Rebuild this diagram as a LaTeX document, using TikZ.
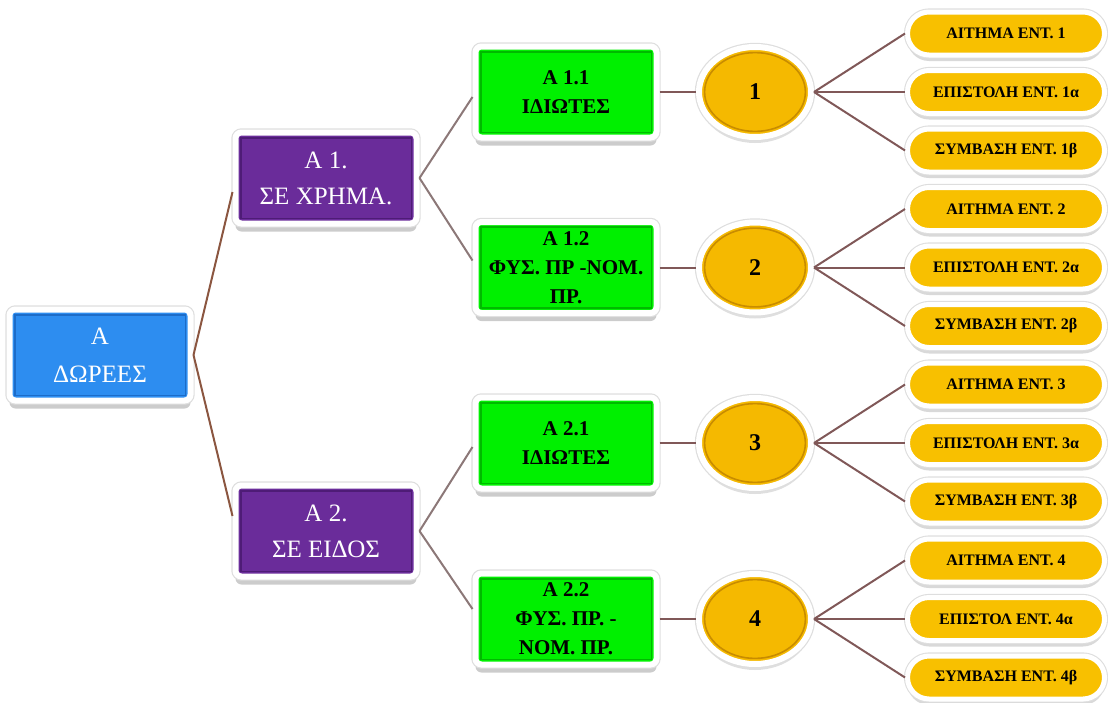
\documentclass[tikz,border=0pt]{standalone}
\usepackage{fontspec}
\setmainfont{Liberation Serif}
\usetikzlibrary{positioning,shapes.geometric,shapes.misc,shadows}

\definecolor{rootblue}{RGB}{45,141,240}
\definecolor{rootdark}{RGB}{28,108,200}
\definecolor{catpurple}{RGB}{106,44,154}
\definecolor{catdark}{RGB}{78,28,118}
\definecolor{subgreen}{RGB}{0,240,0}
\definecolor{subdark}{RGB}{0,185,0}
\definecolor{numgold}{RGB}{245,185,0}
\definecolor{golddark}{RGB}{200,140,0}
\definecolor{docgold}{RGB}{248,192,0}
\definecolor{brownline}{RGB}{139,86,64}
\definecolor{grayline}{RGB}{140,120,120}
\definecolor{mauveline}{RGB}{128,88,88}
\definecolor{halo}{RGB}{222,222,222}

\begin{document}
\begin{tikzpicture}[on grid,
 box/.style={rectangle,rounded corners=3pt,draw=white,line width=3pt,
  minimum width=90.5pt,minimum height=45.5pt,inner sep=0pt,align=center,
  drop shadow={shadow xshift=0pt,shadow yshift=-4pt,opacity=0.4},
  preaction={draw=halo,line width=4.2pt},
  path picture={\draw[#1,line width=0.8pt,sharp corners]
   ([shift={(2.6pt,-2.6pt)}]path picture bounding box.north west) rectangle
   ([shift={(-2.6pt,2.6pt)}]path picture bounding box.south east);}},
 link/.style={line width=1pt,draw=#1}]
 \tikzstyle{rootbox}=[box=rootdark,fill=rootblue,text=white,
  font=\fontsize{12.5}{19}\selectfont]
 \tikzstyle{catbox}=[box=catdark,fill=catpurple,text=white,
  font=\fontsize{12.5}{18}\selectfont]
 \tikzstyle{subbox}=[box=subdark,fill=subgreen,text=black,
  font=\fontsize{10.5}{14.5}\selectfont\bfseries]
 \tikzstyle{numnode}=[ellipse,draw=white,line width=3pt,fill=numgold,
  minimum width=56pt,minimum height=45pt,inner sep=0pt,
  font=\fontsize{12}{14}\selectfont\bfseries,
  drop shadow={shadow xshift=0pt,shadow yshift=-3pt,opacity=0.25},
  preaction={draw=halo,line width=4.2pt},
  path picture={\draw[golddark,line width=0.8pt]
   (path picture bounding box.center) ellipse (25.2pt and 19.7pt);}]
 \tikzstyle{docnode}=[rounded rectangle,draw=white,line width=2.5pt,fill=docgold,
  minimum width=98.5pt,minimum height=21.5pt,inner sep=0pt,
  font=\fontsize{8}{9}\selectfont\bfseries,
  drop shadow={shadow xshift=0pt,shadow yshift=-3pt,opacity=0.3},
  preaction={draw=halo,line width=3.6pt}]

 \useasboundingbox (0,0) rectangle (554pt,-351pt);

 \node[rootbox] (root) at (50pt,-177.5pt) {Α\\ΔΩΡΕΕΣ};
 \node[catbox]  (a1) [above right=88.5pt and 113pt of root] {Α 1.\\ΣΕ ΧΡΗΜΑ.};
 \node[catbox]  (a2) [below right=88pt and 113pt of root]   {Α 2.\\ΣΕ ΕΙΔΟΣ};

 \node[subbox]  (a11) [above right=43pt and 120pt of a1]    {Α 1.1\\ΙΔΙΩΤΕΣ};
 \node[subbox]  (a12) [below right=44.75pt and 120pt of a1] {Α 1.2\\ΦΥΣ. ΠΡ -ΝΟΜ.\\ΠΡ.};
 \node[subbox]  (a21) [above right=44pt and 120pt of a2]    {Α 2.1\\ΙΔΙΩΤΕΣ};
 \node[subbox]  (a22) [below right=44pt and 120pt of a2]    {Α 2.2\\ΦΥΣ. ΠΡ. -\\ΝΟΜ. ΠΡ.};

 \node[numnode] (n1) [right=94.5pt of a11] {1};
 \node[numnode] (n2) [right=94.5pt of a12] {2};
 \node[numnode] (n3) [right=94.5pt of a21] {3};
 \node[numnode] (n4) [right=94.5pt of a22] {4};

 % documents of each case
 \node[docnode] (d1a) [above right=29.25pt and 125.5pt of n1] {ΑΙΤΗΜΑ ΕΝΤ. 1};
 \node[docnode] (d1b) [right=125.5pt of n1]                   {ΕΠΙΣΤΟΛΗ ΕΝΤ. 1α};
 \node[docnode] (d1c) [below right=29.25pt and 125.5pt of n1] {ΣΥΜΒΑΣΗ ΕΝΤ. 1β};
 \node[docnode] (d2a) [above right=29.25pt and 125.5pt of n2] {ΑΙΤΗΜΑ ΕΝΤ. 2};
 \node[docnode] (d2b) [right=125.5pt of n2]                   {ΕΠΙΣΤΟΛΗ ΕΝΤ. 2α};
 \node[docnode] (d2c) [below right=29.25pt and 125.5pt of n2] {ΣΥΜΒΑΣΗ ΕΝΤ. 2β};
 \node[docnode] (d3a) [above right=29.25pt and 125.5pt of n3] {ΑΙΤΗΜΑ ΕΝΤ. 3};
 \node[docnode] (d3b) [right=125.5pt of n3]                   {ΕΠΙΣΤΟΛΗ ΕΝΤ. 3α};
 \node[docnode] (d3c) [below right=29.25pt and 125.5pt of n3] {ΣΥΜΒΑΣΗ ΕΝΤ. 3β};
 \node[docnode] (d4a) [above right=29.25pt and 125.5pt of n4] {ΑΙΤΗΜΑ ΕΝΤ. 4};
 \node[docnode] (d4b) [right=125.5pt of n4]                   {ΕΠΙΣΤΟΛ ΕΝΤ. 4α};
 \node[docnode] (d4c) [below right=29.25pt and 125.5pt of n4] {ΣΥΜΒΑΣΗ ΕΝΤ. 4β};

 \path (root.east) edge[link=brownline] ([yshift=-7pt]a1.west)
                   edge[link=brownline] ([yshift=7.5pt]a2.west);
 \path (a1.east) edge[link=grayline] ([yshift=-2.5pt]a11.west)
                 edge[link=grayline] ([yshift=3.5pt]a12.west);
 \path (a2.east) edge[link=grayline] ([yshift=-2pt]a21.west)
                 edge[link=grayline] ([yshift=5pt]a22.west);
 \path (a11) edge[link=mauveline] (n1)
       (a12) edge[link=mauveline] (n2)
       (a21) edge[link=mauveline] (n3)
       (a22) edge[link=mauveline] (n4);
 \path (n1.east) edge[link=mauveline] (d1a.west) edge[link=mauveline] (d1b.west)
                 edge[link=mauveline] (d1c.west);
 \path (n2.east) edge[link=mauveline] (d2a.west) edge[link=mauveline] (d2b.west)
                 edge[link=mauveline] (d2c.west);
 \path (n3.east) edge[link=mauveline] (d3a.west) edge[link=mauveline] (d3b.west)
                 edge[link=mauveline] (d3c.west);
 \path (n4.east) edge[link=mauveline] (d4a.west) edge[link=mauveline] (d4b.west)
                 edge[link=mauveline] (d4c.west);
\end{tikzpicture}
\end{document}
